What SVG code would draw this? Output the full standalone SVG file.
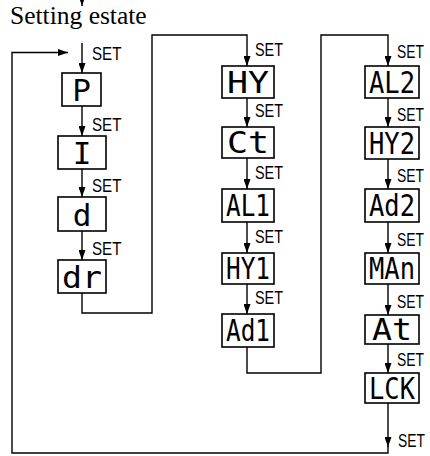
<svg xmlns="http://www.w3.org/2000/svg" width="430" height="456" viewBox="0 0 430 456">
<style>
.box{fill:#fff;stroke:#000;stroke-width:1.6}
.ln{fill:none;stroke:#000;stroke-width:1.4}
.set{font-family:"Liberation Sans",Arial,sans-serif;font-size:18.5px;fill:#000}
.seg{font-family:"DejaVu Sans Mono",monospace;font-weight:normal;font-size:31px;fill:#000;text-anchor:middle}
.title{font-family:"Liberation Serif","Times New Roman",serif;font-size:25.5px;fill:#000}
</style>
<defs>
<marker id="ah" markerUnits="userSpaceOnUse" markerWidth="10" markerHeight="7" viewBox="0 0 10 7" refX="10" refY="3.5" orient="auto">
<path d="M0,0 L10,3.5 L0,7 Z" fill="#000"/>
</marker>
</defs>
<text class="title" x="10" y="24">Setting estate</text>
<g id="connectors">
<path class="ln" d="M82,0 V6" marker-end="url(#ah)"/>
<path class="ln" d="M388,403 V447" marker-end="url(#ah)"/>
<path class="ln" d="M388,446 V453 H12 V52.5 H68" marker-end="url(#ah)"/>
<path class="ln" d="M82,43 V73" marker-end="url(#ah)"/>
<path class="ln" d="M82,106 V136" marker-end="url(#ah)"/>
<path class="ln" d="M82,169 V197" marker-end="url(#ah)"/>
<path class="ln" d="M82,231 V260" marker-end="url(#ah)"/>
<path class="ln" d="M82,293 V313 H152 V35 H247 V66" marker-end="url(#ah)"/>
<path class="ln" d="M247,98 V127" marker-end="url(#ah)"/>
<path class="ln" d="M247,158 V189" marker-end="url(#ah)"/>
<path class="ln" d="M247,222 V253" marker-end="url(#ah)"/>
<path class="ln" d="M247,284 V314" marker-end="url(#ah)"/>
<path class="ln" d="M247,347 V373 H321 V35 H388 V66" marker-end="url(#ah)"/>
<path class="ln" d="M388,98 V127" marker-end="url(#ah)"/>
<path class="ln" d="M388,159 V189" marker-end="url(#ah)"/>
<path class="ln" d="M388,222 V253" marker-end="url(#ah)"/>
<path class="ln" d="M388,284 V315" marker-end="url(#ah)"/>
<path class="ln" d="M388,344 V373" marker-end="url(#ah)"/>
</g>
<g id="labels">
<text class="set" transform="translate(92,60) scale(0.82,1)">SET</text>
<text class="set" transform="translate(92,131) scale(0.82,1)">SET</text>
<text class="set" transform="translate(92,192) scale(0.82,1)">SET</text>
<text class="set" transform="translate(92,255) scale(0.82,1)">SET</text>
<text class="set" transform="translate(255,56) scale(0.78,1)">SET</text>
<text class="set" transform="translate(255,117) scale(0.78,1)">SET</text>
<text class="set" transform="translate(255,179) scale(0.78,1)">SET</text>
<text class="set" transform="translate(255,243) scale(0.78,1)">SET</text>
<text class="set" transform="translate(255,304) scale(0.78,1)">SET</text>
<text class="set" transform="translate(397,58) scale(0.75,1)">SET</text>
<text class="set" transform="translate(397,121) scale(0.75,1)">SET</text>
<text class="set" transform="translate(397,182) scale(0.75,1)">SET</text>
<text class="set" transform="translate(397,246) scale(0.75,1)">SET</text>
<text class="set" transform="translate(397,308) scale(0.75,1)">SET</text>
<text class="set" transform="translate(397,366) scale(0.75,1)">SET</text>
<text class="set" transform="translate(398,447) scale(0.75,1)">SET</text>
</g>
<g id="n-P"><rect class="box" x="62" y="73" width="39" height="33"/><text class="seg" x="81.5" y="101">P</text></g>
<g id="n-I"><rect class="box" x="58" y="136" width="48" height="33"/><text class="seg" x="82" y="164">I</text></g>
<g id="n-d"><rect class="box" x="58" y="197" width="48" height="34"/><text class="seg" x="82" y="226">d</text></g>
<g id="n-dr"><rect class="box" x="58" y="260" width="48" height="33"/><text class="seg" x="82" y="288" textLength="40" lengthAdjust="spacingAndGlyphs">dr</text></g>
<g id="n-HY"><rect class="box" x="222" y="66" width="52" height="32"/><text class="seg" x="248" y="93" textLength="42" lengthAdjust="spacingAndGlyphs">HY</text></g>
<g id="n-Ct"><rect class="box" x="222" y="127" width="52" height="31"/><text class="seg" x="248" y="153" textLength="42" lengthAdjust="spacingAndGlyphs">Ct</text></g>
<g id="n-AL1"><rect class="box" x="222" y="189" width="52" height="33"/><text class="seg" x="248" y="216" textLength="44" lengthAdjust="spacingAndGlyphs">AL1</text></g>
<g id="n-HY1"><rect class="box" x="222" y="253" width="52" height="31"/><text class="seg" x="248" y="279" textLength="44" lengthAdjust="spacingAndGlyphs">HY1</text></g>
<g id="n-Ad1"><rect class="box" x="222" y="314" width="52" height="33"/><text class="seg" x="248" y="341" textLength="44" lengthAdjust="spacingAndGlyphs">Ad1</text></g>
<g id="n-AL2"><rect class="box" x="365" y="66" width="54" height="32"/><text class="seg" x="392" y="93" textLength="46" lengthAdjust="spacingAndGlyphs">AL2</text></g>
<g id="n-HY2"><rect class="box" x="365" y="127" width="54" height="32"/><text class="seg" x="392" y="154" textLength="46" lengthAdjust="spacingAndGlyphs">HY2</text></g>
<g id="n-Ad2"><rect class="box" x="365" y="189" width="54" height="33"/><text class="seg" x="392" y="216" textLength="46" lengthAdjust="spacingAndGlyphs">Ad2</text></g>
<g id="n-MAn"><rect class="box" x="365" y="253" width="54" height="31"/><text class="seg" x="392" y="279" textLength="46" lengthAdjust="spacingAndGlyphs">MAn</text></g>
<g id="n-At"><rect class="box" x="365" y="315" width="54" height="29"/><text class="seg" x="392" y="340" textLength="40" lengthAdjust="spacingAndGlyphs">At</text></g>
<g id="n-LCK"><rect class="box" x="365" y="373" width="54" height="30"/><text class="seg" x="392" y="399" textLength="46" lengthAdjust="spacingAndGlyphs">LCK</text></g>
</svg>
